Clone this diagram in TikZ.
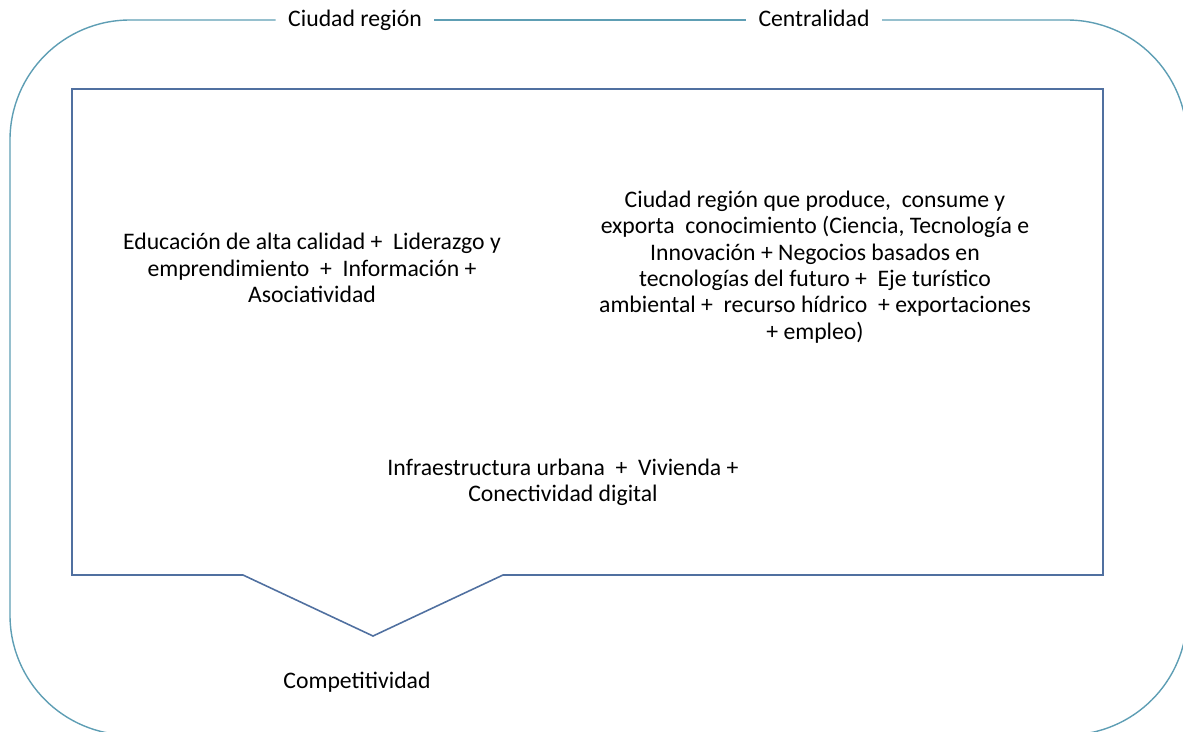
\documentclass[tikz,border=0pt]{standalone}
\usepackage{fontspec}
\setmainfont{Carlito}
\definecolor{marco}{HTML}{5E9EB4}
\definecolor{caja}{HTML}{5070A0}
\begin{document}
\begin{tikzpicture}[x=0.02cm,y=-0.02cm,
 titulo/.style={inner xsep=7pt,inner ysep=0pt,text height=1.9ex,text depth=0.4ex,
   font=\fontsize{13.5}{15}\selectfont},
 texto/.style={align=center,font=\fontsize{13.5}{15}\selectfont},
 borde/.style={draw=marco,line width=0.8pt,rounded corners=2.4cm},
 llamada/.style={draw=caja,line width=0.9pt}]
 \useasboundingbox (0,0) rectangle (1183,731);
 % titulos del marco exterior
 \node[titulo] (ciudad) at (355,20) {Ciudad región};
 \node[titulo] (centro) at (814,20) {Centralidad};
 \draw[borde] (ciudad.west) -- (10,20) -- (10,735) -- (1187,735) -- (1187,20) -- (centro.east);
 \draw[borde] (ciudad.east) -- (centro.west);
 % caja con punta
 \draw[llamada] (72,89) -- (1103,89) -- (1103,575) -- (503,575) -- (373,636)
   -- (243,575) -- (72,575) -- cycle;
 \node[texto] (educ) at (312,268) {Educación de alta calidad +~ Liderazgo y\\
   emprendimiento~ +~ Información +\\ Asociatividad};
 \node[texto] (conoc) at (815,267) {Ciudad región que produce,~ consume y\\
   exporta~ conocimiento (Ciencia, Tecnología e\\
   Innovación + Negocios basados en\\
   tecnologías del futuro +~ Eje turístico\\
   ambiental +~ recurso hídrico~ + exportaciones\\
   + empleo)};
 \node[texto] (infra) at (563,482) {Infraestructura urbana~ +~ Vivienda +\\
   Conectividad digital};
 \node[texto] (compet) at (357,682) {Competitividad};
\end{tikzpicture}
\end{document}
